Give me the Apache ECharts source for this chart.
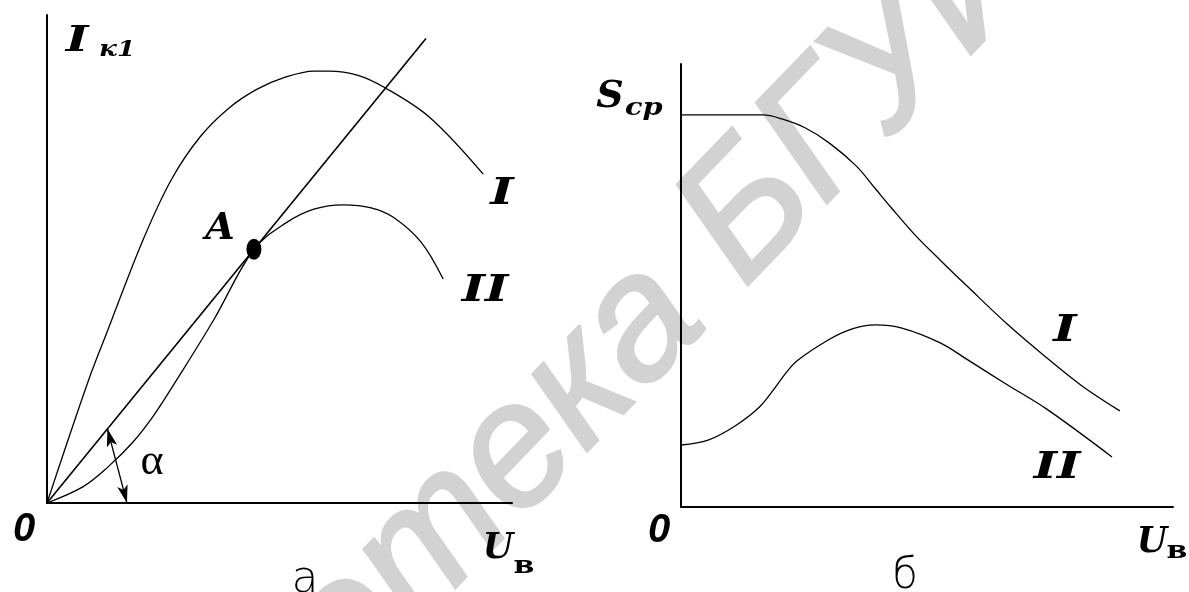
<!DOCTYPE html>
<html>
<head>
<meta charset="utf-8">
<script src="https://cdn.jsdelivr.net/npm/echarts@6/dist/echarts.min.js"></script>
<style>
  html, body { margin: 0; padding: 0; background: #fff; }
  #chart { width: 1189px; height: 592px; }
</style>
</head>
<body>
<div id="chart"></div>
<script>
// Panel а: first-harmonic collector current I_к1 versus excitation voltage U_в
const curveIa = [[0, 0], [0.88, 2.48], [1.29, 3.5], [2.06, 5.38], [2.67, 6.62], [3.29, 7.5], [3.91, 8.09],
  [4.52, 8.48], [5.14, 8.73], [5.74, 8.85], [6.06, 8.85], [6.67, 8.77], [7.25, 8.52], [8.22, 7.91], [9.38, 6.74]];
const curveIIa = [[0, 0], [0.77, 0.33], [1.29, 0.72], [1.85, 1.25], [2.3, 1.8], [2.84, 2.6], [3.59, 3.76],
  [4.45, 5.2], [5.14, 5.74], [5.74, 6.02], [6.37, 6.11], [6.97, 6.05], [7.44, 5.86], [8.04, 5.35], [8.52, 4.59]];
const loadLine = [[0, 0], [8.15, 9.52]];
const pointA = [[4.45, 5.2]];
const angleArc = [[1.3, 1.52], [1.72, 0]];

// Panel б: average transconductance S_ср versus excitation voltage U_в
const curveIb = [[0, 8.85], [1.67, 8.85], [2.05, 8.76], [2.52, 8.56], [3.01, 8.22], [3.56, 7.7], [3.94, 7.2],
  [4.27, 6.76], [4.74, 6.16], [5.28, 5.56], [5.83, 4.97], [6.63, 4.13], [7.42, 3.38], [8.13, 2.75], [8.92, 2.17]];
const curveIIb = [[0, 1.4], [0.55, 1.51], [1.1, 1.83], [1.59, 2.25], [1.89, 2.66], [2.13, 3.02], [2.36, 3.3],
  [3.01, 3.78], [3.48, 4.02], [3.94, 4.11], [4.49, 4.04], [5.28, 3.7], [5.83, 3.32], [6.63, 2.76], [7.42, 2.22], [8.76, 1.13]];

const SERIF_B = '"DejaVu Serif", "Liberation Serif", serif';
const SANS = '"Liberation Sans", Arial, sans-serif';
const THIN = '"DejaVu Sans", sans-serif';

function axisPair(idx) {
  const common = {
    gridIndex: idx, type: 'value', min: 0, max: 10,
    axisLine: { show: true, onZero: true, lineStyle: { color: '#000', width: 2 } },
    axisTick: { show: false }, axisLabel: { show: false }, splitLine: { show: false }
  };
  return [Object.assign({}, common), Object.assign({}, common)];
}
const [xa, ya] = axisPair(0);
const [xb, yb] = axisPair(1);

function curve(data, gi, width, smooth) {
  return {
    type: 'line', xAxisIndex: gi, yAxisIndex: gi, data: data,
    symbol: 'none', showSymbol: false, smooth: smooth, silent: true,
    lineStyle: { color: '#000', width: width }
  };
}

function txt(text, x, y, size, family, opts) {
  opts = opts || {};
  const font = (opts.italic ? 'italic ' : '') + (opts.weight || 'normal') + ' ' + size + 'px ' + family;
  return {
    type: 'text', x: x, y: y, z: 10, silent: true,
    scaleX: opts.sx || 1,
    style: {
      text: text, font: font, fill: '#000',
      align: opts.align || 'center', textAlign: opts.align || 'center',
      verticalAlign: 'middle', textVerticalAlign: 'middle'
    }
  };
}
const bi = { italic: true, weight: 'bold' };
const biW = { italic: true, weight: 'bold', sx: 1.35 };
const biL = { italic: true, weight: 'bold', align: 'left', sx: 1.15 };
const subB = { weight: 'bold', sx: 1.25 };

// faint library stamp running diagonally across the sheet
const stampRot = 46 * Math.PI / 180;
const stampStyle = (text, align) => ({
  text: text, font: 'italic normal 175px ' + SANS,
  fill: '#d2d2d2', stroke: '#d2d2d2', lineWidth: 3,
  align: align, textAlign: align, verticalAlign: 'middle', textVerticalAlign: 'middle'
});

const option = {
  animation: false,
  backgroundColor: '#fff',
  grid: [
    { left: 47, top: 15, width: 465, height: 488 },
    { left: 681, top: 64, width: 492, height: 443 }
  ],
  xAxis: [xa, xb],
  yAxis: [ya, yb],
  series: [
    curve(curveIa, 0, 1.3, 0.35),
    curve(curveIIa, 0, 1.3, 0.35),
    Object.assign(curve(loadLine, 0, 1.6, false), {
      markLine: {
        silent: true, animation: false,
        symbol: ['arrow', 'arrow'],
        label: { show: false },
        emphasis: { disabled: true },
        lineStyle: { color: '#000', width: 1.3, type: 'solid', curveness: 0.3 },
        itemStyle: { color: '#000' },
        data: [[
          { coord: angleArc[0], symbolSize: [8, 18] },
          { coord: angleArc[1], symbolSize: [8, 18] }
        ]]
      }
    }),
    {
      type: 'scatter', xAxisIndex: 0, yAxisIndex: 0, data: pointA, silent: true,
      symbol: 'circle', symbolSize: [15, 21], itemStyle: { color: '#000', opacity: 1 }, z: 5
    },
    curve(curveIb, 1, 1.3, 0.35),
    curve(curveIIb, 1, 1.3, 0.35)
  ],
  graphic: [
    { type: 'text', x: 675, y: 290, rotation: stampRot, z: -10, silent: true, style: stampStyle('Библиотека', 'right') },
    { type: 'text', x: 709, y: 255, rotation: stampRot, z: -10, silent: true, style: stampStyle('БГУИР', 'left') },

    // panel а
    txt('I', 77, 42, 36, SERIF_B, biW),
    txt('к1', 99, 50, 23, SERIF_B, biL),
    txt('A', 220, 229, 38, SERIF_B, bi),
    txt('I', 502, 194, 37, SERIF_B, biW),
    txt('II', 485, 291, 37, SERIF_B, biW),
    txt('α', 152, 462, 44, '"Liberation Serif", serif'),
    txt('0', 24, 530, 40, SANS, bi),
    txt('U', 498, 549, 35, SERIF_B, bi),
    txt('в', 524, 567, 24, SERIF_B, subB),
    txt('а', 305, 581, 44, THIN, { weight: 200 }),

    // panel б
    txt('S', 610, 97, 38, SERIF_B, bi),
    txt('ср', 625, 108, 25, SERIF_B, biL),
    txt('I', 1065, 331, 37, SERIF_B, biW),
    txt('II', 1057, 468, 37, SERIF_B, biW),
    txt('0', 659, 531, 40, SANS, bi),
    txt('U', 1152, 543, 35, SERIF_B, bi),
    txt('в', 1177, 552, 24, SERIF_B, subB),
    txt('б', 905, 577, 42, THIN, { weight: 200 })
  ]
};

const chart = echarts.init(document.getElementById('chart'), null, { renderer: 'canvas' });
chart.setOption(option);
</script>
</body>
</html>
